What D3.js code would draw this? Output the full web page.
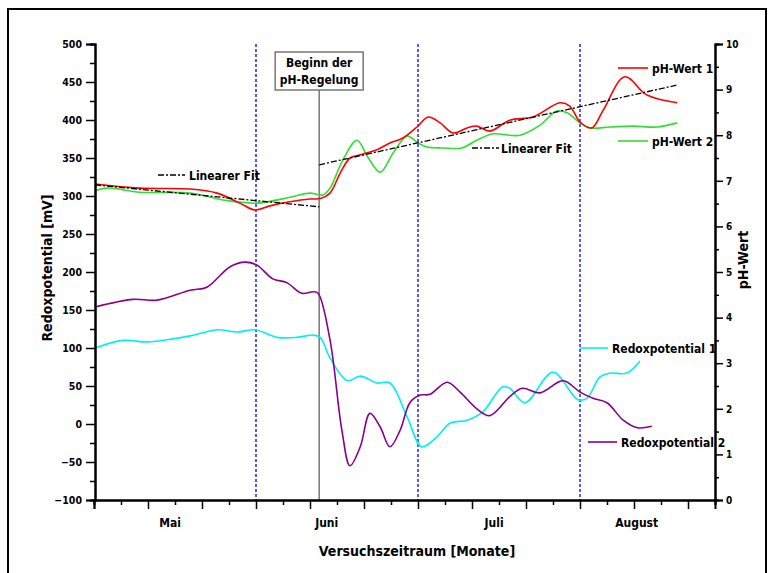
<!DOCTYPE html>
<html><head><meta charset="utf-8">
<script src="https://cdn.jsdelivr.net/npm/d3@7"></script>
<style>
body{margin:0;background:#fff;}
text{font-family:"DejaVu Sans Condensed","DejaVu Sans",sans-serif;font-weight:bold;fill:#000;}
</style></head><body>
<svg id="c" width="774" height="573"></svg>
<script>
// ---- data (x in days from start of May) ----
const ph1X = [0.2,8.5,17.8,22.8,27,29.8,32.6,36.3,40,41.9,43.7,45.6,47.4,49.3,52.4,54.8,57.2,59.8,61.9,64.1,66.5,69.1,70.9,73.3,77,81.3,86.3,88.1,90,92.2,94.3,98.3,102.4,108];
const ph1Y = [6.93,6.84,6.82,6.73,6.51,6.36,6.45,6.54,6.60,6.61,6.73,7.17,7.50,7.57,7.68,7.83,7.94,8.18,8.40,8.27,8.05,8.16,8.20,8.09,8.33,8.40,8.71,8.64,8.29,8.16,8.55,9.28,8.88,8.71];
const ph2X = [0.2,2.4,8.5,17.8,23.9,30.2,36.3,40,42.4,43.7,46.1,48.7,50.7,53,55.4,58,60,61.7,64.6,68.1,70.9,73.9,77,78.9,82.6,85.7,87.6,90,91.9,95.6,99.8,104.3,108];
const ph2Y = [6.78,6.84,6.75,6.73,6.58,6.51,6.64,6.73,6.69,6.84,7.46,7.89,7.52,7.19,7.61,7.98,7.83,7.74,7.72,7.72,7.89,8.03,8.00,8.00,8.22,8.53,8.49,8.27,8.16,8.18,8.20,8.18,8.27];
const rx1X = [0.2,5.4,9.8,14.6,17.8,23,26.5,29.8,33.9,37.6,40.6,41.9,43.7,46.9,49.3,52.4,54.8,58,60.7,63.5,65.9,69.1,72,75.7,77,79.8,85,89.6,91.3,93.7,95.6,98.7,101.1];
const rx1Y = [100,110,108,112,116,124,121,124,114,114,117,114,87,57,63,54,54,9,-30,-17,1,5,16,49,47,28,68,32,34,62,67,67,83];
const rx2X = [0.2,7.2,11.7,17.8,20.9,25.2,28,30.2,33.1,35.7,38.5,40.6,41.5,43.7,45.9,47.4,49.3,51.1,53,54.8,56.7,58.5,60.4,62.2,65.4,67.8,70.9,73.3,77,79.3,82.6,86.9,90,92.4,95,98,100.6,103.3];
const rx2Y = [154,164,163,176,180,207,213,209,191,186,172,174,172,111,-8,-55,-30,14,-4,-30,-8,28,38,39,55,42,20,11,36,47,41,57,42,34,28,5,-5,-3];
const fitSegX = [[0.2,41.7],[41.7,108]];
const fitSegY = [[6.91,6.43],[7.35,9.10]];
const monthBounds = [30,60,90];
const regelStart = 41.7;
const monthLabels = ["Mai","Juni","Juli","August"];
const monthLabelPos = [14,43,74,100.4];
const seriesNames = ["pH-Wert 1","pH-Wert 2","Redoxpotential 1","Redoxpotential 2","Linearer Fit"];
const colors = ["#ff0000","#33dd33","#00f0f0","#8b008b","#000"];

const svg = d3.select("#c");
svg.append("rect").attr("x",8).attr("y",9).attr("width",758).attr("height",580)
  .attr("fill","#fff").attr("stroke","#000").attr("stroke-width",2);

const L=95,R=715,T=44,B=500;
const x = d3.scaleLinear().domain([0,115]).range([94,715]);
const yL = d3.scaleLinear().domain([-100,500]).range([B,T]);
const yR = d3.scaleLinear().domain([0,10]).range([B,T]);

// vertical markers
svg.selectAll(".mb").data(monthBounds).join("line")
  .attr("x1",d=>x(d)).attr("x2",d=>x(d)).attr("y1",T).attr("y2",B)
  .attr("stroke","#0000ee").attr("stroke-width",1.3).attr("stroke-dasharray","3,2");
svg.append("line").attr("x1",x(regelStart)).attr("x2",x(regelStart)).attr("y1",90).attr("y2",B)
  .attr("stroke","#777").attr("stroke-width",1.5);

// annotation box
const bx = x(regelStart);
svg.append("rect").attr("x",bx-44).attr("y",52).attr("width",88).attr("height",38)
  .attr("fill","#fff").attr("stroke","#777").attr("stroke-width",1.5);
svg.append("text").attr("x",bx).attr("y",67).attr("text-anchor","middle").attr("font-size",12).text("Beginn der");
svg.append("text").attr("x",bx).attr("y",84).attr("text-anchor","middle").attr("font-size",12).text("pH-Regelung");

// lines
const mk = (xs,ys,ys_scale)=>d3.line().curve(d3.curveCatmullRom.alpha(0.5))
  .x((d,i)=>x(xs[i])).y((d,i)=>ys_scale(ys[i]))(xs);
const draw=(xs,ys,sc,col)=>svg.append("path").attr("d",mk(xs,ys,sc)).attr("fill","none")
  .attr("stroke",col).attr("stroke-width",1.6);
draw(rx1X,rx1Y,yL,colors[2]);
draw(rx2X,rx2Y,yL,colors[3]);
draw(ph2X,ph2Y,yR,colors[1]);
draw(ph1X,ph1Y,yR,colors[0]);
fitSegX.forEach((s,i)=>{
  svg.append("line").attr("x1",x(s[0])).attr("x2",x(s[1]))
    .attr("y1",yR(fitSegY[i][0])).attr("y2",yR(fitSegY[i][1]))
    .attr("stroke","#000").attr("stroke-width",1.3).attr("stroke-dasharray","6,2,2,2");
});

// axes
svg.append("g").attr("transform",`translate(${L},0)`)
  .call(d3.axisLeft(yL).tickValues(d3.range(-100,501,50)).tickSize(9).tickPadding(4))
  .selectAll(".tick text").attr("font-size",10.5);
svg.append("g").attr("transform",`translate(${L},0)`)
  .call(d3.axisLeft(yL).tickValues(d3.range(-75,500,50)).tickSize(5).tickFormat(""));
svg.append("g").attr("transform",`translate(${R},0)`)
  .call(d3.axisRight(yR).tickValues(d3.range(0,11,1)).tickSize(8).tickPadding(3))
  .selectAll(".tick text").attr("font-size",10);
svg.append("g").attr("transform",`translate(${R},0)`)
  .call(d3.axisRight(yR).tickValues(d3.range(0.5,10,1)).tickSize(4).tickFormat(""));
svg.append("g").attr("transform",`translate(0,${B})`)
  .call(d3.axisBottom(x).tickValues(d3.range(0,116,10)).tickSize(9).tickFormat(""));
svg.append("g").attr("transform",`translate(0,${B})`)
  .call(d3.axisBottom(x).tickValues(d3.range(5,116,10)).tickSize(5).tickFormat(""));
const gM = svg.append("g").attr("transform",`translate(0,${B})`)
  .call(d3.axisBottom(x).tickValues(monthLabelPos).tickSize(0).tickPadding(18)
    .tickFormat((d,i)=>monthLabels[i]));
gM.select(".domain").remove();
gM.selectAll(".tick text").attr("font-size",12);
svg.selectAll(".domain").attr("stroke-width",2);
svg.selectAll(".tick line").attr("stroke-width",1.5);
svg.selectAll(".tick text").style("font-family","DejaVu Sans Condensed").style("font-weight","bold");

// axis titles
svg.append("text").attr("transform","translate(52,268) rotate(-90)").attr("text-anchor","middle")
  .attr("font-size",14).text("Redoxpotential [mV]");
svg.append("text").attr("transform","translate(748,260) rotate(-90)").attr("text-anchor","middle")
  .attr("font-size",14).text("pH-Wert");
svg.append("text").attr("x",417).attr("y",556).attr("text-anchor","middle")
  .attr("font-size",14).text("Versuchszeitraum [Monate]");

// legends
const leg = [
  {i:0,x1:618,x2:648,y:68,tx:652},
  {i:1,x1:618,x2:648,y:141,tx:652},
  {i:2,x1:580,x2:608,y:348,tx:612},
  {i:3,x1:588,x2:617,y:442,tx:621},
  {i:4,x1:158,x2:185,y:175,tx:189},
  {i:4,x1:472,x2:499,y:148,tx:501}
];
leg.forEach(l=>{
  svg.append("line").attr("x1",l.x1).attr("x2",l.x2).attr("y1",l.y).attr("y2",l.y)
    .attr("stroke",colors[l.i]).attr("stroke-width",l.i===4?1.3:1.6)
    .attr("stroke-dasharray",l.i===4?"6,2,2,2":null);
  svg.append("text").attr("x",l.tx).attr("y",l.y+4.5).attr("font-size",12).text(seriesNames[l.i]);
});
</script></body></html>
